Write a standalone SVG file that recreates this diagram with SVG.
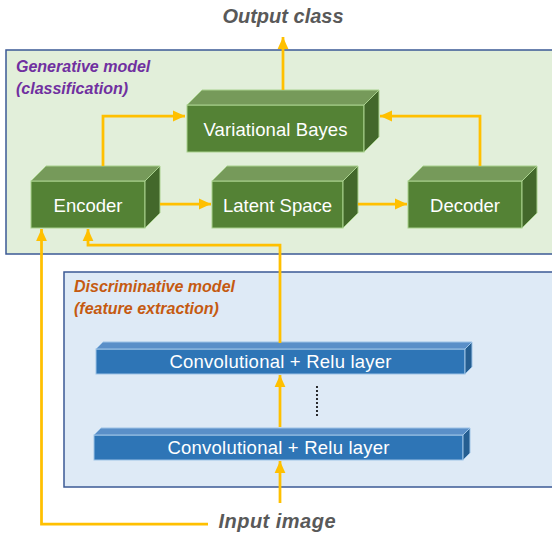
<svg xmlns="http://www.w3.org/2000/svg" width="552" height="533" viewBox="0 0 552 533">
  <style>
    .title{font-family:"Liberation Sans",Arial,sans-serif;font-weight:bold;font-style:italic;font-size:20px;fill:#595959;text-anchor:middle}
    .gen{font-family:"Liberation Sans",Arial,sans-serif;font-weight:bold;font-style:italic;font-size:16px;fill:#7030A0}
    .dis{font-family:"Liberation Sans",Arial,sans-serif;font-weight:bold;font-style:italic;font-size:16px;fill:#C55A11}
    .lbl{font-family:"Liberation Sans",Arial,sans-serif;font-size:18.5px;fill:#ffffff;text-anchor:middle}
    .gf{fill:#548235;stroke:#A9D18E;stroke-width:1}
    .gt{fill:#769A5A;stroke:#A9D18E;stroke-width:1;stroke-linejoin:round}
    .gr{fill:#43682B;stroke:#A9D18E;stroke-width:1;stroke-linejoin:round}
    .bf{fill:#2E75B6;stroke:#9DC3E6;stroke-width:1}
    .bt{fill:#5A8FC8;stroke:#9DC3E6;stroke-width:1;stroke-linejoin:round}
    .br{fill:#255E91;stroke:#9DC3E6;stroke-width:1;stroke-linejoin:round}
    .conn{fill:none;stroke:#FFC000;stroke-width:2.75;marker-end:url(#ah)}
  </style>
  <defs>
    <marker id="ah" markerUnits="userSpaceOnUse" markerWidth="12" markerHeight="12" viewBox="0 0 10 10" refX="10" refY="5" orient="auto">
      <path d="M0,0.5 L10,5 L0,9.5 Z" fill="#FFC000"/>
    </marker>
  </defs>

  <g id="generative-model">
    <rect x="6" y="50" width="560" height="204" fill="#E2EFDA" stroke="#3B5A95" stroke-width="1.5"/>
    <text class="gen" x="16" y="72">Generative model</text>
    <text class="gen" x="16" y="94">(classification)</text>
  </g>

  <g id="discriminative-model">
    <rect x="64" y="272" width="500" height="215" fill="#DEEAF6" stroke="#3B5A95" stroke-width="1.5"/>
    <text class="dis" x="74" y="292" textLength="161">Discriminative model</text>
    <text class="dis" x="74" y="314">(feature extraction)</text>
  </g>

  <g id="output-class">
    <text class="title" x="283" y="23">Output class</text>
  </g>
  <g id="input-image">
    <text class="title" x="277" y="528" textLength="117">Input image</text>
  </g>

  <g id="encoder">
    <rect class="gf" x="31" y="181" width="114" height="47"/>
    <polygon class="gt" points="31,181 46,166 160,166 145,181"/>
    <polygon class="gr" points="145,181 160,166 160,213 145,228"/>
    <text class="lbl" x="88" y="211.5">Encoder</text>
  </g>

  <g id="latent-space">
    <rect class="gf" x="212" y="181" width="131" height="47"/>
    <polygon class="gt" points="212,181 227,166 358,166 343,181"/>
    <polygon class="gr" points="343,181 358,166 358,213 343,228"/>
    <text class="lbl" x="277.5" y="211.5">Latent Space</text>
  </g>

  <g id="decoder">
    <rect class="gf" x="408" y="181" width="114" height="47"/>
    <polygon class="gt" points="408,181 423,166 537,166 522,181"/>
    <polygon class="gr" points="522,181 537,166 537,213 522,228"/>
    <text class="lbl" x="465" y="211.5">Decoder</text>
  </g>

  <g id="variational-bayes">
    <rect class="gf" x="187" y="105" width="177" height="47"/>
    <polygon class="gt" points="187,105 202,90 379,90 364,105"/>
    <polygon class="gr" points="364,105 379,90 379,137 364,152"/>
    <text class="lbl" x="275.5" y="135.5" textLength="144">Variational Bayes</text>
  </g>

  <g id="conv-layer-top">
    <rect class="bf" x="96" y="349" width="369" height="25"/>
    <polygon class="bt" points="96,349 103,342 472,342 465,349"/>
    <polygon class="br" points="465,349 472,342 472,367 465,374"/>
    <text class="lbl" x="280.5" y="368" textLength="222">Convolutional + Relu layer</text>
  </g>

  <g id="conv-layer-bottom">
    <rect class="bf" x="94" y="435" width="369" height="25"/>
    <polygon class="bt" points="94,435 101,428 470,428 463,435"/>
    <polygon class="br" points="463,435 470,428 470,453 463,460"/>
    <text class="lbl" x="278.5" y="454" textLength="222">Convolutional + Relu layer</text>
  </g>

  <g id="ellipsis">
    <line x1="317" y1="387" x2="317" y2="416" stroke="#000000" stroke-width="2.2" stroke-dasharray="0,4" stroke-linecap="round"/>
  </g>

  <g id="connectors">
    <path class="conn" d="M283,90 V37"/>
    <path class="conn" d="M103,166 V116 H185"/>
    <path class="conn" d="M480,166 V116 H380"/>
    <path class="conn" d="M160,204 H211"/>
    <path class="conn" d="M358,204 H407"/>
    <path class="conn" d="M208,524 H41.5 V229"/>
    <path class="conn" d="M280,343 V245 H88 V229"/>
    <path class="conn" d="M280,427 V375"/>
    <path class="conn" d="M280,503 V461"/>
  </g>
</svg>
